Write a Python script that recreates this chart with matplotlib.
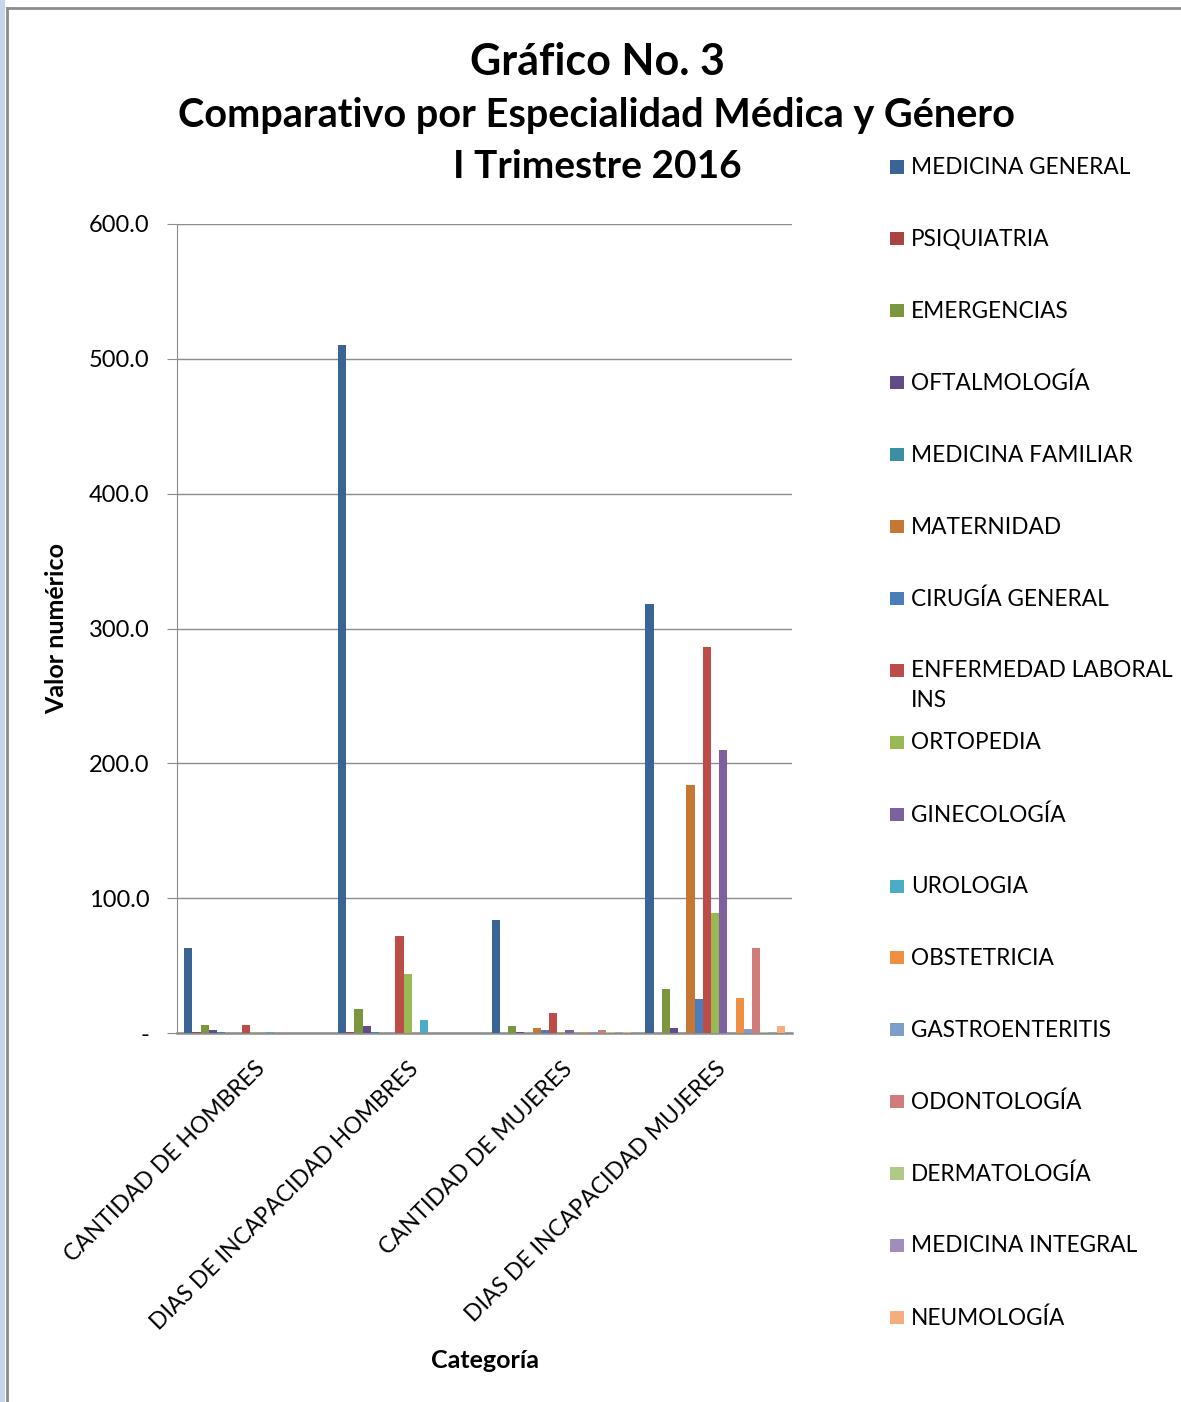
import numpy as np
import matplotlib
matplotlib.use("Agg")
import matplotlib.pyplot as plt
from matplotlib.patches import Rectangle
from matplotlib.lines import Line2D

plt.rcParams['font.family'] = ['Lato', 'DejaVu Sans']

# categorias del eje x
categorias = ["CANTIDAD DE HOMBRES", "DIAS DE INCAPACIDAD HOMBRES",
              "CANTIDAD DE MUJERES", "DIAS DE INCAPACIDAD MUJERES"]

especialidades = ["MEDICINA GENERAL", "PSIQUIATRIA", "EMERGENCIAS", "OFTALMOLOGÍA",
                  "MEDICINA FAMILIAR", "MATERNIDAD", "CIRUGÍA GENERAL",
                  "ENFERMEDAD LABORAL\nINS", "ORTOPEDIA", "GINECOLOGÍA", "UROLOGIA",
                  "OBSTETRICIA", "GASTROENTERITIS", "ODONTOLOGÍA", "DERMATOLOGÍA",
                  "MEDICINA INTEGRAL", "NEUMOLOGÍA"]

# valores por especialidad (una lista por categoria)
cantidad_hombres = [63, 1, 6, 2, 1, 0, 0, 6, 1, 0, 1, 0, 0, 0, 0, 0, 0]
dias_hombres = [510, 1, 18, 5, 1, 0, 0, 72, 44, 0, 10, 0, 0, 0, 0, 0, 0]
cantidad_mujeres = [84, 0, 5, 1, 0, 4, 2, 15, 1, 2, 0, 1, 1, 2, 1, 0, 1]
dias_mujeres = [318, 0, 33, 4, 0, 184, 25, 286, 89, 210, 0, 26, 3, 63, 1, 0, 5]

colores = ["#3B6496", "#A94442", "#7B963F", "#624C87", "#3A8FA3", "#C57733",
           "#4A7DBA", "#BD4B48", "#98B954", "#7D60A0", "#4BACC6", "#EE8F42",
           "#7F9DCB", "#CF7C7A", "#B0C987", "#A18DBD", "#F6AC7C"]

valores = np.array([cantidad_hombres, dias_hombres, cantidad_mujeres, dias_mujeres])

W, H = 1181, 1402
fig = plt.figure(figsize=(W / 100, H / 100), dpi=100)
ax = fig.add_axes([177 / W, 1 - 1033 / H, 615 / W, 809 / H])

n = len(especialidades)
ancho = 1 / (n + 1.75)
x = np.arange(len(categorias))
for i in range(n):
    pos = x - 0.5 + ancho * 0.875 + ancho * (i + 0.5)
    ax.bar(pos, valores[:, i], width=ancho, color=colores[i],
           linewidth=0, zorder=3)

ax.set_xlim(-0.5, len(categorias) - 0.5)
ax.set_ylim(0, 600)
ax.set_yticks(np.arange(0, 601, 100))
ax.set_yticklabels(["-"] + ["%.1f" % v for v in np.arange(100, 601, 100)], fontsize=17)
ax.yaxis.grid(True, color="#8C8C8C", linewidth=1, zorder=0)
ax.tick_params(axis="y", length=7, color="#8C8C8C", pad=13)
ax.tick_params(axis="x", length=0)
ax.set_xticks(x)
ax.set_xticklabels(categorias, rotation=45, ha="right", va="top",
                   rotation_mode="anchor", fontsize=16.5)
for lbl in ax.get_xticklabels():
    lbl.set_y(-0.025)
for s in ["top", "right"]:
    ax.spines[s].set_visible(False)
ax.spines["left"].set_color("#8C8C8C")
ax.spines["bottom"].set_color("#8C8C8C")
ax.spines["bottom"].set_linewidth(1.8)

fig.text(57 / W, 1 - 628 / H, "Valor numérico", rotation=90, ha="center",
         va="center", fontsize=18, fontweight="bold")
fig.text(485 / W, 1 - 1360 / H, "Categoría", ha="center", va="center",
         fontsize=18, fontweight="bold")

# titulo
fig.text(597 / W, 1 - 62 / H, "Gráfico No. 3", ha="center", va="center",
         fontsize=31, fontweight="bold")
fig.text(597 / W, 1 - 116 / H, "Comparativo por Especialidad Médica y Género",
         ha="center", va="center", fontsize=28.5, fontweight="bold")
fig.text(597 / W, 1 - 167 / H, "I Trimestre 2016", ha="center", va="center",
         fontsize=28, fontweight="bold")

# leyenda
for i, (nombre, c) in enumerate(zip(especialidades, colores)):
    yc = 167 + i * 71.9
    fig.patches.append(Rectangle((890 / W, 1 - (yc + 6.5) / H), 14 / W, 13 / H,
                                 transform=fig.transFigure, facecolor=c,
                                 edgecolor="none"))
    fig.text(911 / W, 1 - (yc - 10) / H, nombre, ha="left", va="top",
             fontsize=16.3, linespacing=1.5)

# marco
fig.add_artist(Line2D([7 / W, 1], [1 - 8 / H, 1 - 8 / H], transform=fig.transFigure,
                      color="#8C8C8C", linewidth=2))
fig.add_artist(Line2D([7 / W, 7 / W], [0, 1 - 8 / H], transform=fig.transFigure,
                      color="#8C8C8C", linewidth=2))
fig.patches.append(Rectangle((0, 0), 5 / W, 1, transform=fig.transFigure,
                             facecolor="#C5D5EA", edgecolor="none"))

fig.savefig("out.png", dpi=100)
